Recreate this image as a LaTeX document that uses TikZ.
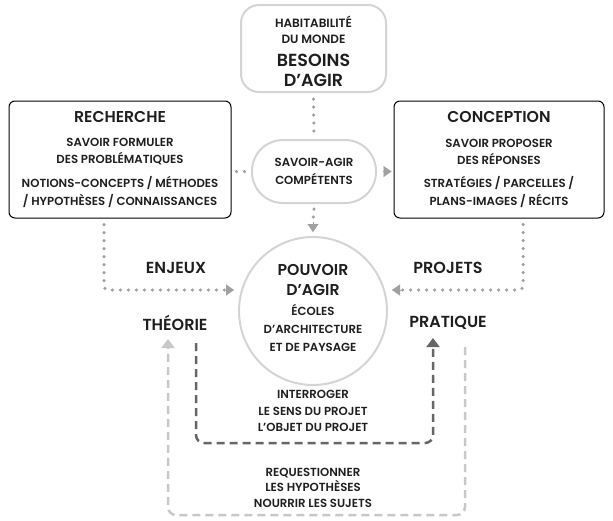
\documentclass[tikz,border=0pt]{standalone}
\usepackage{fontspec}
\setmainfont{Poppins}[UprightFont=* SemiBold, BoldFont=* Bold]
\usetikzlibrary{arrows.meta}
\definecolor{txt}{HTML}{1E1E1E}
\definecolor{lgray}{HTML}{D4D4D4}
\definecolor{dotc}{HTML}{A0A0A0}
\definecolor{dkdash}{HTML}{666666}
\definecolor{ltdash}{HTML}{C8C8C8}
\tikzset{
  x=1pt,y=1pt,
  softbox/.style={draw=lgray,line width=2pt,inner sep=0pt},
  hardbox/.style={draw=black,line width=1pt,rounded corners=6pt,inner sep=0pt},
  big/.style={text=txt,font=\fontsize{15.7}{20}\selectfont,align=center,inner sep=0pt},
  small/.style={text=txt,font=\fontsize{11.7}{17}\selectfont,align=center,inner sep=0pt},
  dotline/.style={dotc,line width=3.5pt,line cap=round,dash pattern=on 0pt off 8pt},
  tip/.style={-{Triangle[width=11pt,length=8pt]}},
  darkdash/.style={dkdash,line width=2.5pt,dash pattern=on 8pt off 5pt},
  lightdash/.style={ltdash,line width=2.5pt,dash pattern=on 8pt off 5pt},
}
\begin{document}
\begin{tikzpicture}
\useasboundingbox (0,0) rectangle (613,-520);
% shapes
\node[softbox,rounded corners=18pt,minimum width=145pt,minimum height=87pt] (top) at (313.5,-48.5) {};
\node[hardbox,minimum width=222pt,minimum height=117pt] (rech) at (120,-159.5) {};
\node[hardbox,minimum width=210pt,minimum height=117pt] (conc) at (499,-159.5) {};
\node[softbox,rounded corners=31pt,minimum width=124pt,minimum height=63pt] (pill) at (314,-171.5) {};
\node[softbox,circle,minimum size=148pt] (circ) at (313,-311) {};
% texts
\node[small,font=\fontsize{12}{16}\selectfont] (t1) at (313.5,-30) {HABITABILITÉ\\DU MONDE};
\node[big,font=\fontsize{17.5}{20}\selectfont] (t2) at (313.5,-70) {BESOINS\\D’AGIR};
\node[big] (r1) at (120,-117) {RECHERCHE};
\node[small] (r2) at (120,-151.5) {SAVOIR FORMULER\\DES PROBLÉMATIQUES};
\node[small,font=\fontsize{11.7}{18}\selectfont] (r3) at (120,-192) {NOTIONS-CONCEPTS / MÉTHODES\\/ HYPOTHÈSES / CONNAISSANCES};
\node[big] (c1) at (499,-117) {CONCEPTION};
\node[small] (c2) at (499,-151.5) {SAVOIR PROPOSER\\DES RÉPONSES};
\node[small,font=\fontsize{11.7}{18}\selectfont] (c3) at (499,-192) {STRATÉGIES / PARCELLES /\\PLANS-IMAGES / RÉCITS};
\node[small,font=\fontsize{11.7}{18}\selectfont] (p1) at (314,-171) {SAVOIR-AGIR\\COMPÉTENTS};
\node[big] (k1) at (313,-280) {POUVOIR\\D’AGIR};
\node[small,font=\fontsize{11.7}{18}\selectfont] (k2) at (313,-328) {ÉCOLES\\D’ARCHITECTURE\\ET DE PAYSAGE};
\node[big,font=\fontsize{16}{16}\selectfont] (enj) at (176,-268) {ENJEUX};
\node[big,font=\fontsize{16}{16}\selectfont] (theo) at (175,-323) {THÉORIE};
\node[big,font=\fontsize{16}{16}\selectfont] (proj) at (448,-268) {PROJETS};
\node[big,font=\fontsize{16}{16}\selectfont] (prat) at (448,-323) {PRATIQUE};
\node[small,font=\fontsize{11.7}{16.5}\selectfont] (in1) at (313,-411) {INTERROGER\\LE SENS DU PROJET\\L’OBJET DU PROJET};
\node[small,font=\fontsize{11.7}{15.5}\selectfont] (out1) at (313,-487.5) {REQUESTIONNER\\LES HYPOTHÈSES\\NOURRIR LES SUJETS};
% connectors
\draw[dotline] ([yshift=-6pt]top.south) -- ([yshift=4pt]pill.north);
\draw[dotline] ([xshift=5pt]rech.east |- pill.west) -- ([xshift=-3pt]pill.west);
\draw[dotc,tip,line width=0.1pt] ([xshift=6pt]pill.east) -- ([xshift=-2pt]pill.east -| conc.west);
\draw[dotline] ([yshift=-5pt]pill.south) -- ([yshift=16pt]circ.north);
\draw[dotc,tip,line width=0.1pt] ([yshift=14pt]circ.north) -- ([yshift=4pt]circ.north);
\draw[dotline,rounded corners=4pt] ([xshift=-16pt,yshift=-6pt]rech.south) |- ([xshift=-12pt,yshift=21pt]circ.west);
\draw[dotc,tip,line width=0.1pt] ([xshift=-12pt,yshift=21pt]circ.west) -- ([xshift=-4pt,yshift=21pt]circ.west);
\draw[dotline,rounded corners=4pt] ([xshift=24pt,yshift=-6pt]conc.south) |- ([xshift=12pt,yshift=21pt]circ.east);
\draw[dotc,tip,line width=0.1pt] ([xshift=12pt,yshift=21pt]circ.east) -- ([xshift=4pt,yshift=21pt]circ.east);
\coordinate (ia) at (196,-343);
\coordinate (ib) at (433,-338);
\coordinate (oa) at (168,-339);
\coordinate (ob) at (465,-347);
\draw[darkdash,rounded corners=8pt,-{Triangle[width=13pt,length=9pt,fill=dkdash]}] (ia) -- ++(0,-100) -| (ib);
\draw[lightdash,rounded corners=8pt,-{Triangle[width=13pt,length=9pt,fill=ltdash]}] (ob) -- ++(0,-168) -| (oa);
\end{tikzpicture}
\end{document}
